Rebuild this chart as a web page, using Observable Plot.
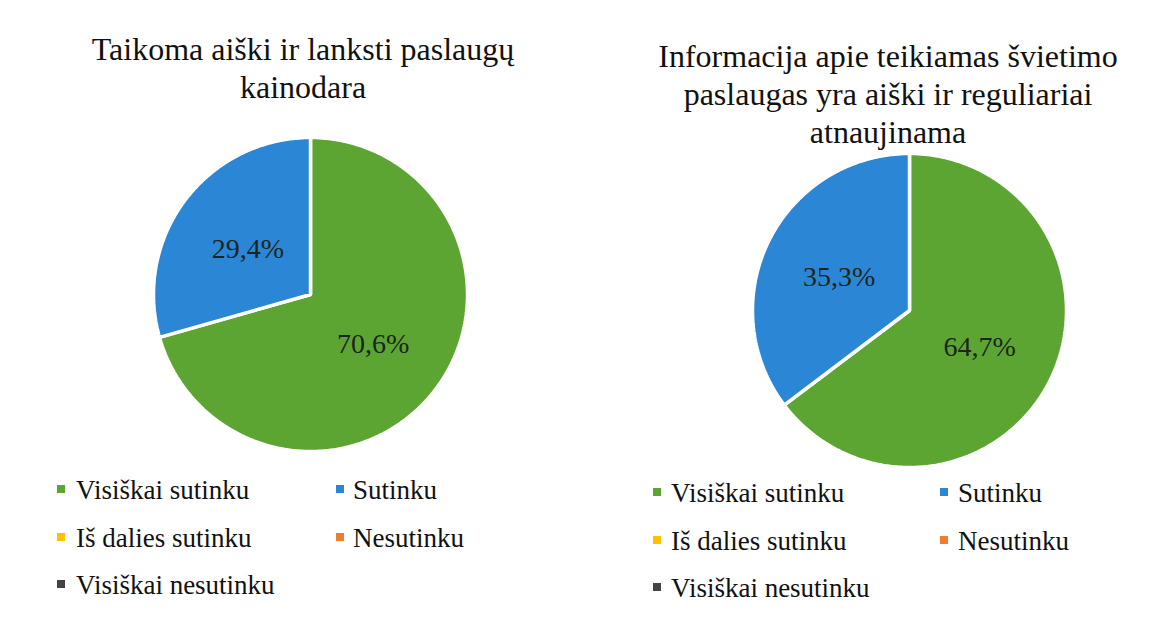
<!DOCTYPE html>
<html>
<head>
<meta charset="utf-8">
<script src="https://cdn.jsdelivr.net/npm/d3@7"></script>
<script src="https://cdn.jsdelivr.net/npm/@observablehq/plot@0.6"></script>
<style>
  html, body { margin: 0; padding: 0; background: #fff; }
  body { width: 1176px; height: 621px; position: relative; overflow: hidden;
         font-family: "Liberation Serif", "Times New Roman", serif; color: #111; }
  .title { position: absolute; text-align: center; font-size: 32px; line-height: 38px; white-space: nowrap; }
  .pie { position: absolute; }
  .leg { position: absolute; font-size: 27px; line-height: 30px; white-space: nowrap; }
  .sw { position: absolute; width: 8px; height: 8px; }
</style>
</head>
<body>
<script>
// ---- data ----
const categories = ["Visiškai sutinku", "Sutinku", "Iš dalies sutinku", "Nesutinku", "Visiškai nesutinku"];
const colors = ["#5ca533", "#2b86d5", "#ffc000", "#ed7d31", "#444444"];
const titles = [
  ["Taikoma aiški ir lanksti paslaugų", "kainodara"],
  ["Informacija apie teikiamas švietimo", "paslaugas yra aiški ir reguliariai", "atnaujinama"]
];
const valuesLeft = [70.6, 29.4, 0, 0, 0];
const valuesRight = [64.7, 35.3, 0, 0, 0];

// ---- layout (page positions only) ----
const charts = [
  {values: valuesLeft, title: titles[0], titleX: 303, titleY: 30, pieX: 150, pieY: 134,
   legX: [57, 336], textX: [76, 353], legY: [490, 538, 585]},
  {values: valuesRight, title: titles[1], titleX: 888, titleY: 37, pieX: 749, pieY: 150,
   legX: [653, 940], textX: [671, 958], legY: [493, 541, 588]}
];

const fmt = v => v.toFixed(1).replace(".", ",") + "%";

function pieData(values) {
  const rows = categories.map((c, i) => ({cat: c, v: values[i]}));
  const arcs = d3.pie().sort(null).value(d => d.v).startAngle(0).endAngle(2 * Math.PI)(rows);
  const pts = [], labels = [];
  for (const a of arcs) {
    if (!(a.data.v > 0)) continue;
    pts.push({cat: a.data.cat, x: 0, y: 0});
    const n = Math.max(2, Math.ceil((a.endAngle - a.startAngle) / 0.01));
    for (let k = 0; k <= n; k++) {
      const t = a.startAngle + (a.endAngle - a.startAngle) * k / n;
      pts.push({cat: a.data.cat, x: Math.sin(t), y: Math.cos(t)});
    }
    const m = (a.startAngle + a.endAngle) / 2;
    labels.push({cat: a.data.cat, x: 0.5 * Math.sin(m), y: 0.5 * Math.cos(m), text: fmt(a.data.v)});
  }
  return {pts, labels};
}

for (const ch of charts) {
  const t = document.createElement("div");
  t.className = "title";
  t.style.left = (ch.titleX - 300) + "px";
  t.style.width = "600px";
  t.style.top = ch.titleY + "px";
  t.innerHTML = ch.title.join("<br>");
  document.body.appendChild(t);

  const {pts, labels} = pieData(ch.values);
  const svg = Plot.plot({
    width: 320, height: 320, margin: 3,
    x: {domain: [-1, 1], axis: null},
    y: {domain: [-1, 1], axis: null},
    color: {domain: categories, range: colors},
    style: {background: "transparent"},
    marks: [
      Plot.line(pts, {x: "x", y: "y", z: "cat", fill: "cat", stroke: "white", strokeWidth: 3.5,
                      strokeLinejoin: "miter", curve: "linear-closed"}),
      Plot.text(labels, {x: "x", y: "y", text: "text", fontSize: 28, dy: 2, fill: "#1c261c",
                         fontFamily: "Liberation Serif"})
    ]
  });
  const wrap = document.createElement("div");
  wrap.className = "pie";
  wrap.style.left = ch.pieX + "px";
  wrap.style.top = ch.pieY + "px";
  wrap.appendChild(svg);
  document.body.appendChild(wrap);

  categories.forEach((c, i) => {
    const col = i % 2, row = Math.floor(i / 2);
    const sw = document.createElement("div");
    sw.className = "sw";
    sw.style.background = colors[i];
    sw.style.left = ch.legX[col] + "px";
    sw.style.top = (ch.legY[row] - 5) + "px";
    document.body.appendChild(sw);
    const lab = document.createElement("div");
    lab.className = "leg";
    lab.textContent = c;
    lab.style.left = ch.textX[col] + "px";
    lab.style.top = (ch.legY[row] - 15) + "px";
    document.body.appendChild(lab);
  });
}
</script>
</body>
</html>
